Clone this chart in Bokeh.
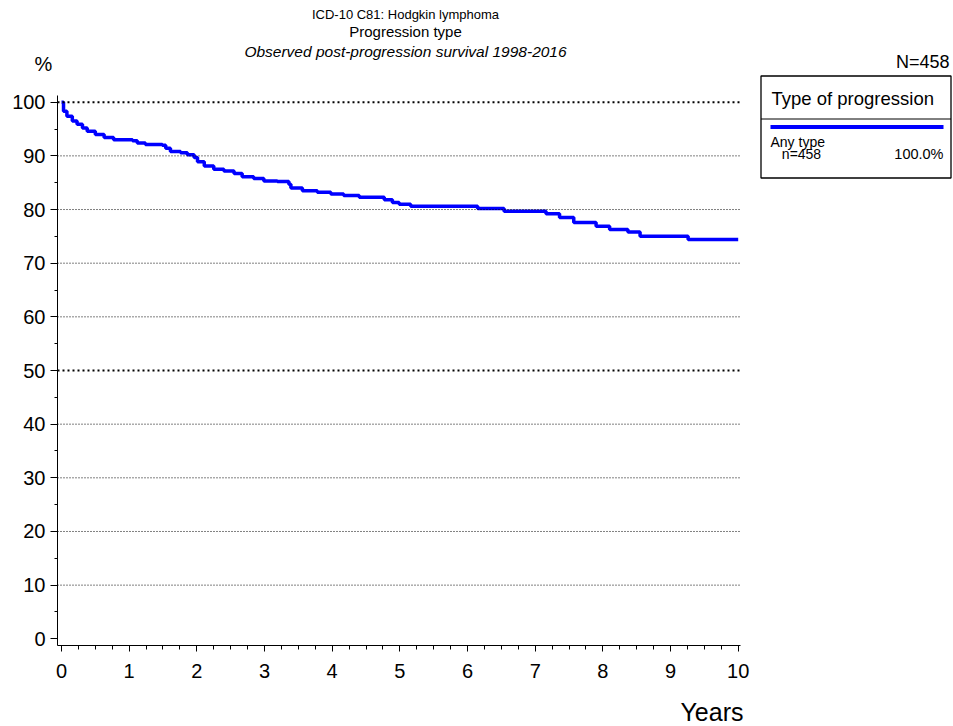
from bokeh.plotting import figure
from bokeh.models import Range1d, FixedTicker, Span
from bokeh.layouts import column, row
from bokeh.core.properties import value
from bokeh.embed import file_html
from bokeh.resources import INLINE

# ---- data ----
years = [0, 0.03, 0.08, 0.16, 0.23, 0.31, 0.38, 0.50, 0.63, 0.77, 1.05, 1.12, 1.24, 1.49,
         1.54, 1.61, 1.76, 1.86, 1.96, 2.01, 2.11, 2.25, 2.40, 2.55, 2.67, 2.84, 2.99, 3.19,
         3.36, 3.39, 3.56, 3.78, 3.98, 4.17, 4.40, 4.77, 4.89, 4.99, 5.16, 6.15, 6.54, 7.16,
         7.36, 7.57, 7.90, 8.10, 8.37, 8.55, 9.26, 10.0]
survival = [100, 98.3, 97.4, 96.5, 95.9, 95.2, 94.6, 94.0, 93.4, 93.0, 92.8, 92.4, 92.1, 92.0,
            91.4, 90.8, 90.6, 90.2, 89.7, 88.9, 88.1, 87.5, 87.2, 86.7, 86.1, 85.8, 85.3, 85.2,
            84.7, 84.0, 83.5, 83.2, 82.9, 82.6, 82.3, 81.8, 81.3, 81.0, 80.6, 80.2, 79.7, 79.2,
            78.5, 77.6, 76.9, 76.3, 75.8, 75.0, 74.4, 74.4]
x_ticks = list(range(0, 11))
x_minor = [i * 0.25 for i in range(0, 41)]
y_ticks = list(range(0, 101, 10))
y_minor = list(range(0, 101, 5))
bold_grid = [50, 100]
title_lines = ["ICD-10 C81: Hodgkin lymphoma", "Progression type",
               "Observed post-progression survival 1998-2016"]
x_title = "Years"
y_title = "%"
series_name = "Any type"
series_n = "n=458"
series_pct = "100.0%"
legend_title = "Type of progression"
total_n = "N=458"

FONT = "Liberation Sans"
BLUE = "#0000FF"
W, H = 952, 724
TOP_H = 74          # title strip
BOT_Y = 690         # page y where the bottom strip begins
MAIN_W = 750


def blank(width, height, xr, yr):
    f = figure(width=width, height=height, output_backend="svg", toolbar_location=None,
               x_range=Range1d(*xr), y_range=Range1d(*yr), x_axis_type=None, y_axis_type=None,
               min_border=0)
    f.outline_line_color = None
    f.grid.visible = False
    f.frame_align = False
    return f


def txt(f, x, y, s, size, align="left", style="normal"):
    f.text(x=[x], y=[y], text=[s], text_font=value(FONT), text_font_size=size,
           text_align=align, text_baseline="middle", text_color="black",
           text_font_style=style)


# ---- top strip (titles): coordinates are page pixels ----
top = blank(W, TOP_H, (0, W), (TOP_H, 0))
txt(top, 405, 14, title_lines[0], "13px", "center")
txt(top, 405, 31, title_lines[1], "15px", "center")
txt(top, 405, 51, title_lines[2], "15.5px", "center", "italic")
txt(top, 43, 63, y_title, "20px", "center")
txt(top, 949, 61, total_n, "18px", "right")

# ---- main plot ----
p = figure(width=MAIN_W, height=BOT_Y - TOP_H, output_backend="svg", toolbar_location=None,
           x_range=Range1d(-0.059, 10.034), y_range=Range1d(-1.25, 101.25),
           min_border_left=57, min_border_right=10, min_border_top=95 - TOP_H,
           min_border_bottom=BOT_Y - 645)
p.outline_line_color = None
p.grid.visible = False
p.frame_align = False

for ax in (p.xaxis[0], p.yaxis[0]):
    ax.axis_line_color = "black"
    ax.axis_line_width = 1
    ax.major_tick_line_color = "black"
    ax.minor_tick_line_color = "black"
    ax.major_tick_in = 0
    ax.minor_tick_in = 0
    ax.major_label_text_font = FONT
    ax.major_label_text_color = "black"
    ax.major_label_text_font_size = "20px"

p.xaxis.ticker = FixedTicker(ticks=x_ticks, minor_ticks=x_minor)
p.yaxis.ticker = FixedTicker(ticks=y_ticks, minor_ticks=y_minor)
p.xaxis.major_tick_out = 6
p.xaxis.minor_tick_out = 4
p.yaxis.major_tick_out = 7
p.yaxis.minor_tick_out = 3
p.xaxis.major_label_standoff = 12
p.yaxis.major_label_standoff = 5

for v in y_ticks[1:]:
    if v in bold_grid:
        p.add_layout(Span(location=v, dimension="width", line_color="black",
                          line_width=2, line_dash="2 3"))
    else:
        p.add_layout(Span(location=v, dimension="width", line_color="black",
                          line_width=1, line_dash="1 2"))

p.step(years, survival, mode="after", line_color=BLUE, line_width=3.5)

# ---- right panel (legend): coordinates are page pixels ----
rp = blank(W - MAIN_W, BOT_Y - TOP_H, (MAIN_W, W), (BOT_Y, TOP_H))
rp.quad(left=[760.5], right=[950.5], top=[75.5], bottom=[177.5], fill_alpha=0,
        line_color="black", line_width=1.3)
rp.segment(x0=[760.5], x1=[950.5], y0=[118.5], y1=[118.5], line_color="black", line_width=1)
rp.segment(x0=[770], x1=[943], y0=[126.5], y1=[126.5], line_color=BLUE, line_width=4)
txt(rp, 771, 98, legend_title, "18.5px")
txt(rp, 770, 141, series_name, "14px")
txt(rp, 801, 153, series_n, "14px", "center")
txt(rp, 943, 153, series_pct, "14.5px", "right")

# ---- bottom strip (axis title) ----
bot = blank(W, H - BOT_Y, (0, W), (H, BOT_Y))
txt(bot, 743, 711, x_title, "25px", "right")

layout = column(top, row(p, rp, spacing=0), bot, spacing=0)
open("out.html", "w").write(file_html(layout, INLINE))
